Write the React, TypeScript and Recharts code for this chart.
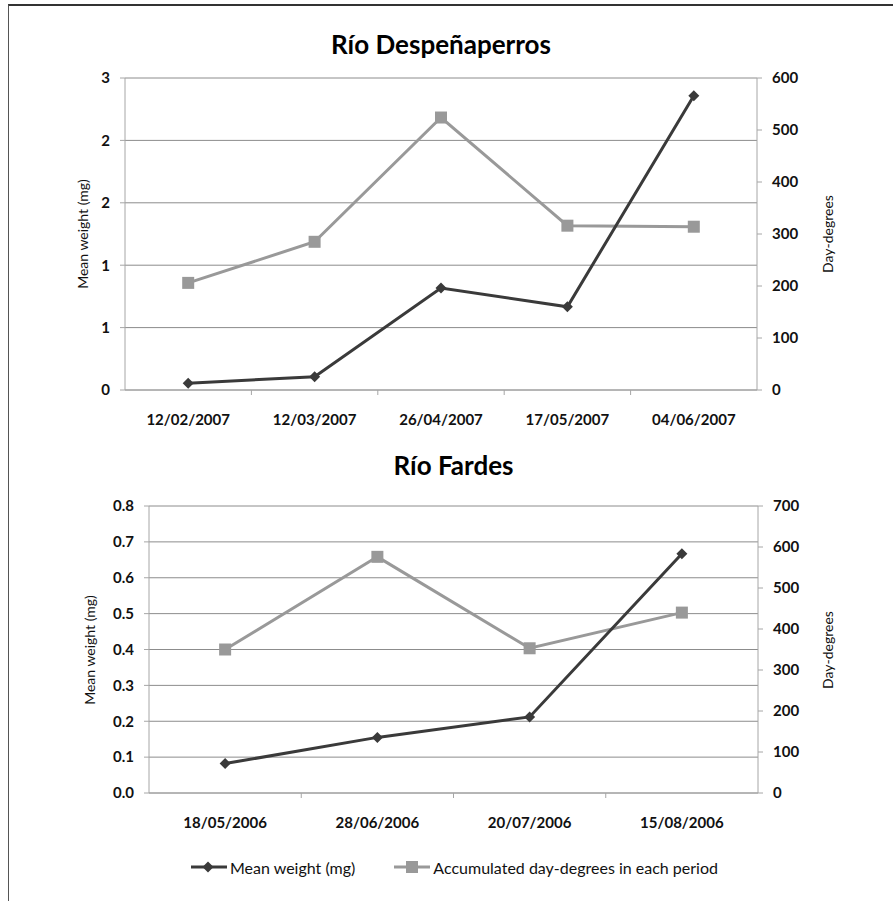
import React from "react";
import { LineChart, Line, XAxis, YAxis, CartesianGrid } from "recharts";

// Río Despeñaperros (2007)
const despDates = ["12/02/2007", "12/03/2007", "26/04/2007", "17/05/2007", "04/06/2007"];
const despWeight = [0.065, 0.128, 0.98, 0.8, 2.83];
const despDayDegrees = [206, 285, 524, 316, 314];
const despWeightTicks = [0, 0.6, 1.2, 1.8, 2.4, 3];
const despDegreeTicks = [0, 100, 200, 300, 400, 500, 600];

// Río Fardes (2006)
const fardDates = ["18/05/2006", "28/06/2006", "20/07/2006", "15/08/2006"];
const fardWeight = [0.082, 0.155, 0.212, 0.667];
const fardDayDegrees = [350, 576, 353, 440];
const fardWeightTicks = [0, 0.1, 0.2, 0.3, 0.4, 0.5, 0.6, 0.7, 0.8];
const fardDegreeTicks = [0, 100, 200, 300, 400, 500, 600, 700];

const FONT = "Lato, 'DejaVu Sans', sans-serif";
const DARK = "#3a3a3a";
const GREY = "#999999";
const AXIS = "#a6a6a6";
const GRID = "#8c8c8c";

const Diamond = (props: any) => {
  const { cx, cy, index } = props;
  if (cx == null || cy == null) return null;
  const r = 5.5;
  return (
    <path key={`dm-${index}`} d={`M${cx},${cy - r}L${cx + r},${cy}L${cx},${cy + r}L${cx - r},${cy}Z`} fill={DARK} />
  );
};

const Square = (props: any) => {
  const { cx, cy, index } = props;
  if (cx == null || cy == null) return null;
  const s = 12;
  return <rect key={`sq-${index}`} x={cx - s / 2} y={cy - s / 2} width={s} height={s} fill={GREY} />;
};

function makeXTick(band: number) {
  return (props: any) => {
    const { x, y, payload, index } = props;
    return (
      <g>
        {index > 0 && <line x1={x - band / 2} x2={x - band / 2} y1={y} y2={y + 5} stroke={AXIS} />}
        <text x={x} y={y + 35} textAnchor="middle" fontFamily={FONT} fontSize={15} fontWeight={700} fill="#111">
          {payload.value}
        </text>
      </g>
    );
  };
}

type RiverProps = {
  title: string;
  titleGap: number;
  top: number;
  height: number;
  margin: { top: number; right: number; bottom: number; left: number };
  dates: string[];
  weight: number[];
  degrees: number[];
  weightTicks: number[];
  degreeTicks: number[];
  digits: number;
  leftTitleX: number;
};

function RiverChart(p: RiverProps) {
  const rows = p.dates.map((d, i) => ({ date: d, weight: p.weight[i], degrees: p.degrees[i] }));
  const plotLeft = p.margin.left + 60;
  const plotRight = 893 - p.margin.right - 60;
  const plotTop = p.top + p.margin.top;
  const plotBottom = p.top + p.height - p.margin.bottom - 30;
  const band = (plotRight - plotLeft) / p.dates.length;
  const midY = (plotTop + plotBottom) / 2;
  const tickStyle = { fill: "#111", fontSize: 15, fontWeight: 700, fontFamily: FONT };
  const axisTitle: React.CSSProperties = {
    position: "absolute",
    transform: "translate(-50%, -50%) rotate(-90deg)",
    whiteSpace: "nowrap",
    fontFamily: FONT,
    fontSize: 14,
    color: "#111",
  };
  return (
    <>
      <div
        style={{
          position: "absolute",
          left: plotLeft,
          width: plotRight - plotLeft,
          top: plotTop - p.titleGap,
          textAlign: "center",
          fontFamily: FONT,
          fontWeight: 700,
          fontSize: 26,
          color: "#000",
        }}
      >
        {p.title}
      </div>
      <div style={{ position: "absolute", left: 0, top: p.top }}>
        <LineChart width={893} height={p.height} data={rows} margin={p.margin}>
          <CartesianGrid yAxisId="w" vertical={false} stroke={GRID} />
          <XAxis
            dataKey="date"
            stroke={AXIS}
            tickLine={false}
            tickSize={0}
            tickMargin={0}
            height={30}
            interval={0}
            padding={{ left: band / 2, right: band / 2 }}
            tick={makeXTick(band)}
          />
          <YAxis
            yAxisId="w"
            orientation="left"
            width={60}
            domain={[p.weightTicks[0], p.weightTicks[p.weightTicks.length - 1]]}
            ticks={p.weightTicks}
            interval={0}
            tickFormatter={(v: number) => v.toFixed(p.digits)}
            stroke={AXIS}
            tickSize={5}
            tickMargin={10}
            tick={tickStyle}
          />
          <YAxis
            yAxisId="d"
            orientation="right"
            width={60}
            domain={[p.degreeTicks[0], p.degreeTicks[p.degreeTicks.length - 1]]}
            ticks={p.degreeTicks}
            interval={0}
            stroke={AXIS}
            tickSize={5}
            tickMargin={10}
            tick={{ ...tickStyle, textAnchor: "start" }}
          />
          <Line
            yAxisId="d"
            dataKey="degrees"
            stroke={GREY}
            strokeWidth={3}
            dot={Square}
            activeDot={false}
            isAnimationActive={false}
          />
          <Line
            yAxisId="w"
            dataKey="weight"
            stroke={DARK}
            strokeWidth={3}
            dot={Diamond}
            activeDot={false}
            isAnimationActive={false}
          />
        </LineChart>
      </div>
      <div style={{ ...axisTitle, left: p.leftTitleX, top: midY }}>Mean weight (mg)</div>
      <div style={{ ...axisTitle, left: 827, top: midY }}>Day-degrees</div>
    </>
  );
}

export default function App() {
  return (
    <div style={{ position: "absolute", left: 0, top: 0, width: 893, height: 901, background: "#fff", overflow: "hidden" }}>
      <div
        style={{
          position: "absolute",
          left: 8,
          top: 4,
          width: 900,
          height: 900,
          borderTop: "2px solid #333",
          borderLeft: "1.5px solid #555",
        }}
      />
      <RiverChart
        title="Río Despeñaperros"
        titleGap={50}
        top={0}
        height={440}
        margin={{ top: 78, right: 76, bottom: 20, left: 65 }}
        dates={despDates}
        weight={despWeight}
        degrees={despDayDegrees}
        weightTicks={despWeightTicks}
        degreeTicks={despDegreeTicks}
        digits={0}
        leftTitleX={82}
      />
      <RiverChart
        title="Río Fardes"
        titleGap={57}
        top={440}
        height={400}
        margin={{ top: 66, right: 75, bottom: 17, left: 89 }}
        dates={fardDates}
        weight={fardWeight}
        degrees={fardDayDegrees}
        weightTicks={fardWeightTicks}
        degreeTicks={fardDegreeTicks}
        digits={1}
        leftTitleX={89}
      />
      <div
        style={{
          position: "absolute",
          top: 857,
          left: 190,
          display: "flex",
          alignItems: "center",
          fontFamily: FONT,
          fontSize: 16,
          color: "#111",
          whiteSpace: "nowrap",
        }}
      >
        <svg width={38} height={20}>
          <line x1={1} x2={37} y1={10} y2={10} stroke={DARK} strokeWidth={3} />
          <path d="M18,4.5L23.5,10L18,15.5L12.5,10Z" fill={DARK} />
        </svg>
        <span style={{ marginLeft: 2 }}>Mean weight (mg)</span>
        <svg width={38} height={20} style={{ marginLeft: 38 }}>
          <line x1={1} x2={37} y1={10} y2={10} stroke={GREY} strokeWidth={3} />
          <rect x={13} y={4} width={12} height={12} fill={GREY} />
        </svg>
        <span style={{ marginLeft: 2 }}>Accumulated day-degrees in each period</span>
      </div>
    </div>
  );
}
